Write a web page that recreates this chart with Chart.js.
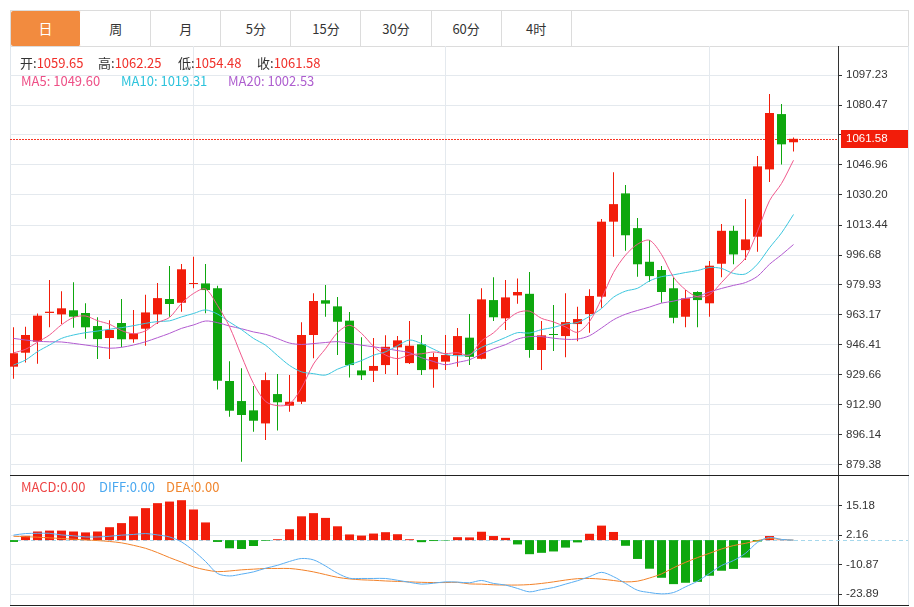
<!DOCTYPE html>
<html>
<head>
<meta charset="utf-8">
<title>日K</title>
<script src="https://cdn.jsdelivr.net/npm/chart.js@4.4.1/dist/chart.umd.min.js"></script>
<style>
  html, body { margin: 0; padding: 0; background: #fff; }
  body { width: 914px; height: 607px; position: relative; overflow: hidden; font-family: "Noto Sans CJK SC", "Noto Sans", sans-serif; }
  #tabs { position: absolute; left: 10px; top: 10px; width: 899px; height: 37px; border: 1px solid #dcdcdc; box-sizing: border-box; display: flex; }
  .tab { width: 70.1px; height: 35px; border-right: 1px solid #dcdcdc; box-sizing: border-box; text-align: center; line-height: 35px; font-size: 13px; color: #333; }
  .tab.on { background: #f28b3f; color: #fff; border-radius: 2px; border-right-color: #fff; font-size: 14px; }
  #frame { position: absolute; left: 10px; top: 46px; width: 899px; height: 560px; border-left: 1px solid #e0e6ec; border-right: 1px solid #e0e6ec; box-sizing: border-box; }
  canvas { position: absolute; left: 10px; }
  #main { top: 46px; }
  #macd { top: 475px; }
  .hline { position: absolute; left: 10px; width: 899px; height: 1px; background: #222; }
  .lg { position: absolute; font-size: 13px; line-height: 18px; white-space: nowrap; color: #333; }
  .red { color: #f0302a; }
</style>
</head>
<body>
<div id="tabs">
  <div class="tab on">日</div>
  <div class="tab">周</div>
  <div class="tab">月</div>
  <div class="tab">5分</div>
  <div class="tab">15分</div>
  <div class="tab">30分</div>
  <div class="tab">60分</div>
  <div class="tab">4时</div>
</div>
<div id="frame"></div>
<canvas id="main" width="898" height="429"></canvas>
<canvas id="macd" width="898" height="130"></canvas>
<div class="hline" style="top:475px"></div>
<div class="hline" style="top:605px"></div>

<div class="lg" style="left:20px;top:54px">开:<span class="red" id="vOpen"></span></div>
<div class="lg" style="left:98px;top:54px">高:<span class="red" id="vHigh"></span></div>
<div class="lg" style="left:178px;top:54px">低:<span class="red" id="vLow"></span></div>
<div class="lg" style="left:257px;top:54px">收:<span class="red" id="vClose"></span></div>
<div class="lg" style="left:21px;top:72px;color:#ee4f86" id="lgMa5"></div>
<div class="lg" style="left:121px;top:72px;color:#2dc3dc" id="lgMa10"></div>
<div class="lg" style="left:228px;top:72px;color:#ae5ecf" id="lgMa20"></div>
<div class="lg" style="left:21px;top:478px;color:#ee4444" id="lgMacd"></div>
<div class="lg" style="left:99px;top:478px;color:#4aa8f0" id="lgDiff"></div>
<div class="lg" style="left:166px;top:478px;color:#f0862e" id="lgDea"></div>

<script>
// daily candles (index 0 = oldest)
const opens = [
  934.3, 942.1, 948.2, 964.3, 963.5, 965.8, 964.3, 957.0, 950.3, 958.7,
  949.6, 955.5, 963.5, 972.1, 970.0, 980.5, 980.8, 978.1, 926.3, 915.1,
  909.9, 902.6, 919.0, 912.5, 914.7, 952.0, 971.4, 968.0, 960.0, 932.2,
  932.0, 935.2, 945.1, 936.3, 946.8, 932.8, 937.1, 940.8, 950.5, 938.7,
  971.5, 961.3, 974.1, 975.0, 943.6, 952.4, 951.4, 958.1, 963.7, 973.4,
  1015.3, 1031.1, 1011.7, 992.9, 988.3, 978.1, 962.2, 976.0, 969.7, 991.8,
  1010.2, 999.4, 1006.9, 1044.5, 1075.4, 1059.65
]
const highs = [
  956.3, 956.6, 964.0, 982.7, 976.4, 981.4, 969.7, 961.9, 960.3, 972.1,
  965.9, 974.5, 981.0, 990.5, 991.6, 995.7, 991.6, 979.5, 937.3, 933.4,
  923.5, 931.1, 930.2, 929.6, 959.1, 975.3, 979.9, 973.2, 964.8, 950.7,
  950.3, 951.8, 951.4, 959.8, 952.0, 942.1, 952.0, 955.9, 963.7, 978.1,
  984.2, 982.7, 983.6, 987.2, 959.8, 968.7, 975.3, 967.8, 977.5, 1016.8,
  1042.9, 1035.8, 1017.3, 1005.0, 990.5, 984.2, 977.1, 976.5, 993.3, 1014.0,
  1013.0, 1027.9, 1052.0, 1086.6, 1081.0, 1062.25
]
const lows = [
  927.6, 936.7, 935.9, 956.3, 958.1, 956.1, 949.9, 938.6, 938.6, 945.1,
  947.7, 946.0, 958.1, 962.2, 965.0, 978.1, 964.1, 921.6, 906.3, 881.2,
  898.0, 893.3, 898.7, 909.1, 913.5, 939.0, 962.2, 940.8, 928.3, 926.8,
  925.7, 930.2, 929.6, 935.8, 929.6, 922.5, 932.4, 934.3, 935.2, 938.5,
  959.8, 954.8, 969.5, 939.3, 932.4, 943.0, 939.5, 948.5, 953.3, 967.2,
  995.7, 999.1, 984.5, 981.7, 970.0, 958.5, 956.3, 956.3, 962.2, 984.2,
  991.5, 993.9, 998.5, 1037.4, 1047.3, 1054.48
]
const closes = [
  941.8, 952.0, 962.8, 965.0, 966.9, 962.2, 956.3, 949.7, 954.8, 949.6,
  952.9, 964.6, 972.6, 969.3, 988.7, 981.0, 977.1, 926.4, 909.7, 907.3,
  904.1, 926.8, 914.4, 914.7, 952.0, 971.0, 969.5, 959.4, 935.2, 929.5,
  934.7, 945.4, 949.0, 946.0, 932.4, 939.7, 940.8, 951.4, 939.8, 971.9,
  961.9, 973.0, 976.0, 943.6, 951.8, 952.0, 959.2, 960.9, 973.8, 1015.3,
  1025.1, 1007.7, 991.5, 984.9, 976.0, 961.6, 972.5, 971.5, 990.7, 1010.2,
  997.0, 1005.4, 1046.2, 1076.0, 1058.5, 1061.58
]

// moving average lines
const ma5 = [
  942.0, 944.0, 948.0, 952.0, 957.7, 961.8, 962.6, 960.0, 958.0, 954.5,
  952.7, 954.3, 958.9, 961.8, 969.6, 975.2, 977.7, 968.5, 956.6, 940.3,
  924.9, 914.9, 912.5, 913.5, 922.4, 935.8, 944.3, 953.3, 957.4, 952.9,
  945.7, 940.8, 938.8, 940.9, 941.5, 942.5, 941.6, 942.1, 940.8, 948.7,
  953.2, 959.6, 964.5, 965.3, 961.3, 959.3, 956.5, 953.5, 959.5, 972.2,
  986.9, 996.6, 1002.7, 1004.9, 997.0, 984.3, 977.3, 973.3, 974.5, 981.3,
  988.4, 995.0, 1009.9, 1027.0, 1036.6, 1049.60
]
const ma10 = [
  935.2, 938.0, 942.7, 946.4, 950.1, 952.0, 953.3, 954.2, 955.2, 956.1,
  957.2, 958.5, 959.5, 959.9, 962.1, 964.0, 966.0, 963.7, 959.2, 955.0,
  950.1, 946.3, 940.5, 935.0, 931.4, 930.4, 929.6, 932.9, 935.4, 937.7,
  940.7, 942.6, 946.0, 949.2, 947.2, 944.1, 941.2, 940.4, 940.9, 945.1,
  947.8, 950.6, 953.3, 953.1, 955.0, 956.2, 958.1, 959.0, 962.4, 966.8,
  973.1, 976.5, 978.1, 982.2, 984.6, 985.6, 986.9, 988.0, 989.7, 989.2,
  986.4, 986.1, 991.6, 1000.7, 1009.0, 1019.31
]
const ma20 = [
  950.1, 949.2, 948.5, 948.2, 948.1, 947.3, 946.4, 945.5, 944.6, 945.1,
  946.4, 948.2, 950.5, 952.9, 955.7, 957.6, 959.8, 958.9, 957.0, 955.5,
  953.7, 952.4, 950.0, 947.5, 946.7, 947.2, 947.8, 948.3, 947.3, 946.3,
  945.4, 944.4, 943.3, 942.1, 939.3, 937.2, 935.4, 936.7, 938.2, 941.4,
  944.3, 946.6, 949.7, 951.1, 951.1, 950.2, 949.6, 949.7, 951.6, 955.9,
  960.5, 963.6, 965.7, 967.6, 969.8, 970.9, 972.5, 973.5, 976.0, 978.0,
  979.7, 981.3, 984.8, 991.5, 996.8, 1002.53
]

// MACD panel
const macdBars = [
  -0.8, 1.9, 3.8, 4.2, 4.2, 3.8, 3.4, 3.8, 5.7, 7.5,
  10.5, 14.1, 16.3, 17.0, 17.6, 13.5, 7.8, -0.8, -3.6, -3.9,
  -2.6, -0.3, 0.4, 4.8, 10.5, 11.9, 9.8, 6.1, 2.5, 2.0,
  2.9, 3.5, 2.6, 0.4, -0.9, -0.4, -0.2, 1.3, 1.2, 3.7,
  1.8, 1.0, -1.9, -6.2, -5.6, -5.0, -3.3, -1.0, 2.8, 6.4,
  3.6, -2.5, -8.3, -12.6, -16.6, -19.4, -18.8, -18.4, -15.7, -13.5,
  -12.7, -7.7, -0.6, 1.8, 0.1, 0
]
const diffLine = [
  2.2, 2.9, 3.0, 3.0, 2.3, 1.9, 1.4, 1.4, 1.7, 2.2,
  2.5, 2.9, 2.3, 1.4, -0.8, -4.7, -9.4, -14.7, -15.8, -15.0,
  -14.0, -12.4, -11.1, -9.4, -8.1, -8.7, -11.4, -14.6, -16.8, -16.9,
  -16.9, -16.9, -17.7, -18.6, -19.4, -19.0, -18.4, -18.5, -18.8, -17.8,
  -19.1, -19.8, -21.3, -22.8, -21.8, -20.9, -19.4, -17.9, -16.1, -14.2,
  -16.1, -19.1, -22.1, -23.1, -23.7, -23.1, -20.6, -18.1, -14.7, -11.2,
  -9.0, -5.8, -1.0, 1.2, 0.3, 0
]
const deaLine = [
  1.7, 1.5, 1.3, 1.0, 0.7, 0.4, 0.1, -0.2, -0.6, -1.2,
  -2.3, -3.6, -5.5, -7.7, -9.7, -11.8, -13.1, -13.9, -13.6, -13.1,
  -12.8, -12.5, -12.5, -12.5, -13.1, -14.0, -15.2, -16.4, -17.1, -17.5,
  -17.7, -18.0, -18.2, -18.4, -18.6, -18.7, -18.7, -18.6, -19.3, -19.4,
  -19.7, -19.8, -19.8, -19.6, -19.1, -18.4, -17.6, -17.0, -16.9, -17.2,
  -17.8, -18.4, -18.1, -16.7, -14.9, -12.2, -9.8, -7.7, -5.8, -3.9,
  -2.4, -1.4, -0.2, 0.7, 0.3, 0
]

// axis ticks
const priceTicks = [879.38, 896.14, 912.90, 929.66, 946.41, 963.17, 979.93, 996.68, 1013.44, 1030.20, 1046.96, 1063.72, 1080.47, 1097.23]
const macdTicks = [-23.89, -10.87, 2.16, 15.18]
const monthStarts = [15, 36, 58] // candles where the vertical grid lines sit

const upColor = '#f21d0a'
const downColor = '#0ea70e'
const gridColor = '#e4e9ee'
const axisFont = { family: 'Liberation Sans', size: 11.5 }
const last = closes.length - 1
const idx = closes.map((c, i) => i)

// legend texts
document.getElementById('vOpen').textContent = opens[last].toFixed(2)
document.getElementById('vHigh').textContent = highs[last].toFixed(2)
document.getElementById('vLow').textContent = lows[last].toFixed(2)
document.getElementById('vClose').textContent = closes[last].toFixed(2)
document.getElementById('lgMa5').textContent = 'MA5: ' + ma5[last].toFixed(2)
document.getElementById('lgMa10').textContent = 'MA10: ' + ma10[last].toFixed(2)
document.getElementById('lgMa20').textContent = 'MA20: ' + ma20[last].toFixed(2)
document.getElementById('lgMacd').textContent = 'MACD:' + macdBars[last].toFixed(2)
document.getElementById('lgDiff').textContent = 'DIFF:' + diffLine[last].toFixed(2)
document.getElementById('lgDea').textContent = 'DEA:' + deaLine[last].toFixed(2)

// x axis shared by both panels: 12px per candle
const xAxis = {
  type: 'linear',
  min: -0.2917,
  max: 68.7083,
  offset: false,
  grid: { offset: false, color: gridColor, drawTicks: false },
  border: { display: false },
  ticks: { display: false },
  afterBuildTicks: (s) => { s.ticks = monthStarts.map((v) => ({ value: v })) },
  afterFit: (s) => {
    s.height = 0
    s.paddingLeft = 0
    s.paddingRight = 0
  },
}

function yAxis(min, max, tickValues) {
  return {
    position: 'right',
    min: min,
    max: max,
    beginAtZero: false,
    grid: { color: gridColor, tickColor: '#333', tickLength: 4 },
    border: { color: '#333' },
    ticks: { color: '#333', font: axisFont, padding: 4, callback: (v) => Number(v).toFixed(2) },
    afterBuildTicks: (s) => { s.ticks = tickValues.map((v) => ({ value: v })) },
    afterFit: (s) => {
      s.width = 70
      // no extra room for the end labels, the plot runs to the canvas edge
      s.paddingTop = 0
      s.paddingBottom = 0
    },
  }
}

const candleColor = (c) => (closes[c.dataIndex] >= opens[c.dataIndex] ? upColor : downColor)

function maLine(values, color) {
  return {
    type: 'line',
    data: idx.map((i) => ({ x: i, y: values[i] })),
    borderColor: color,
    borderWidth: 1,
    pointRadius: 0,
    tension: 0.3,
    order: 0,
  }
}

// red dotted line + price box for the last close
const lastPricePlugin = {
  id: 'lastPrice',
  beforeDatasetsDraw(chart) {
    const ctx = chart.ctx
    const a = chart.chartArea
    const y = Math.round(chart.scales.y.getPixelForValue(closes[last])) + 0.5
    ctx.save()
    ctx.strokeStyle = '#f83424'
    ctx.lineWidth = 1
    ctx.setLineDash([2, 1])
    ctx.beginPath()
    ctx.moveTo(a.left, y)
    ctx.lineTo(a.right, y)
    ctx.stroke()
    ctx.restore()
  },
  afterDraw(chart) {
    const ctx = chart.ctx
    const y = chart.scales.y.getPixelForValue(closes[last])
    ctx.save()
    ctx.fillStyle = '#f21d0a'
    ctx.fillRect(831, Math.round(y) - 9, 68, 18)
    ctx.fillStyle = '#fff'
    ctx.font = '11.5px "Liberation Sans"'
    ctx.textBaseline = 'middle'
    ctx.fillText(closes[last].toFixed(2), 836, y + 0.5)
    ctx.restore()
  },
}

new Chart(document.getElementById('main'), {
  type: 'bar',
  data: {
    datasets: [
      maLine(ma5, '#f0588c'),
      maLine(ma10, '#3cc6de'),
      maLine(ma20, '#b25ad0'),
      {
        label: 'body',
        data: idx.map((i) => ({ x: i, y: [opens[i], closes[i]] })),
        backgroundColor: candleColor,
        barThickness: 9,
        minBarLength: 1,
        grouped: false,
        inflateAmount: 0,
        order: 1,
      },
      {
        label: 'wick',
        data: idx.map((i) => ({ x: i, y: [lows[i], highs[i]] })),
        backgroundColor: candleColor,
        barThickness: 1,
        grouped: false,
        inflateAmount: 0,
        order: 2,
      },
    ],
  },
  options: {
    responsive: false,
    animation: false,
    events: [],
    layout: { padding: 0 },
    plugins: { legend: { display: false }, tooltip: { enabled: false } },
    scales: {
      x: xAxis,
      y: yAxis(873.79, 1113.43, priceTicks),
    },
  },
  plugins: [lastPricePlugin],
})

// dashed zero line of the MACD panel
const zeroLinePlugin = {
  id: 'zeroLine',
  beforeDatasetsDraw(chart) {
    const ctx = chart.ctx
    const y = Math.round(chart.scales.y.getPixelForValue(0)) + 0.5
    ctx.save()
    ctx.strokeStyle = '#a6d8ec'
    ctx.lineWidth = 1
    ctx.setLineDash([4, 3])
    ctx.beginPath()
    ctx.moveTo(chart.chartArea.left, y)
    ctx.lineTo(chart.width, y)
    ctx.stroke()
    ctx.restore()
  },
}

new Chart(document.getElementById('macd'), {
  type: 'bar',
  data: {
    datasets: [
      {
        type: 'line',
        data: idx.map((i) => ({ x: i, y: diffLine[i] })),
        borderColor: '#5aaef2',
        borderWidth: 1,
        pointRadius: 0,
        tension: 0.3,
        order: 0,
      },
      {
        type: 'line',
        data: idx.map((i) => ({ x: i, y: deaLine[i] })),
        borderColor: '#f2822a',
        borderWidth: 1,
        pointRadius: 0,
        tension: 0.3,
        order: 0,
      },
      {
        data: idx.map((i) => ({ x: i, y: macdBars[i] })),
        backgroundColor: (c) => (macdBars[c.dataIndex] >= 0 ? upColor : downColor),
        barThickness: 9,
        grouped: false,
        inflateAmount: 0,
        order: 1,
      },
    ],
  },
  options: {
    responsive: false,
    animation: false,
    events: [],
    layout: { padding: 0 },
    plugins: { legend: { display: false }, tooltip: { enabled: false } },
    scales: {
      x: xAxis,
      y: yAxis(-28.6, 28.71, macdTicks),
    },
  },
  plugins: [zeroLinePlugin],
})
</script>
</body>
</html>
